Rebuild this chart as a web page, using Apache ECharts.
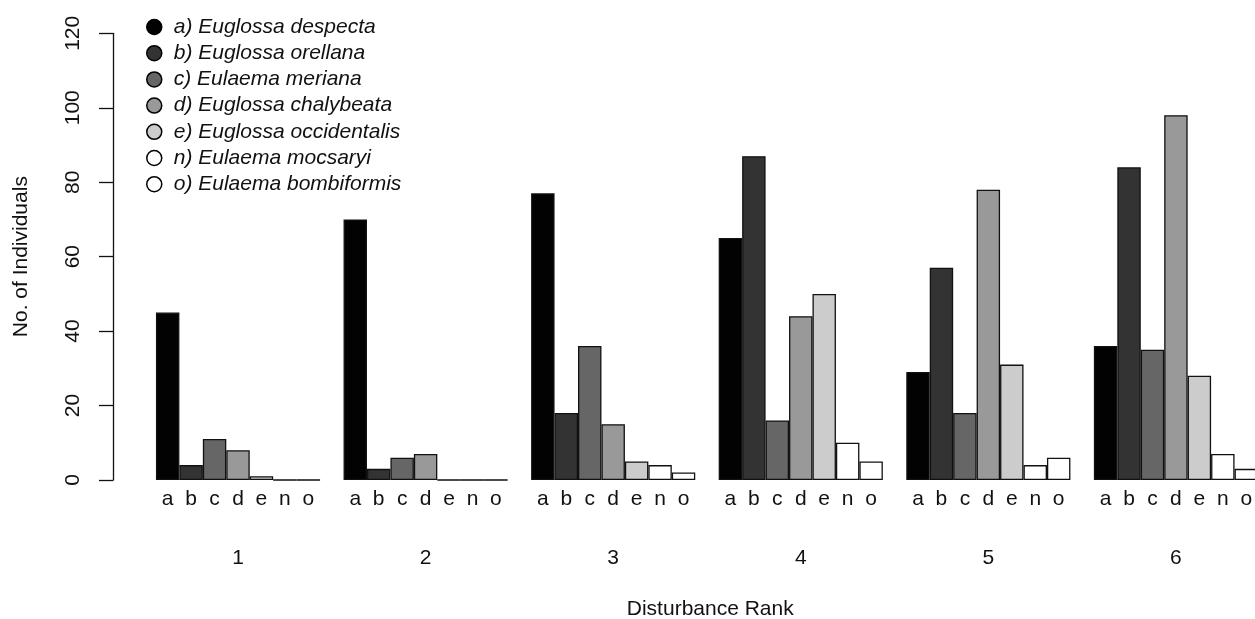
<!DOCTYPE html>
<html>
<head>
<meta charset="utf-8">
<script src="https://cdn.jsdelivr.net/npm/echarts@6/dist/echarts.min.js"></script>
<style>
html,body{margin:0;padding:0;background:#fff;}
#chart{width:1255px;height:619px;}
</style>
</head>
<body>
<div id="chart"></div>
<script>
// Disturbance ranks (groups)
var groups = ['1', '2', '3', '4', '5', '6'];
// Species letters (bars within each group)
var letters = ['a', 'b', 'c', 'd', 'e', 'n', 'o'];
// Legend names
var speciesNames = [
  'a) Euglossa despecta',
  'b) Euglossa orellana',
  'c) Eulaema meriana',
  'd) Euglossa chalybeata',
  'e) Euglossa occidentalis',
  'n) Eulaema mocsaryi',
  'o) Eulaema bombiformis'
];
// Counts per species, one value per disturbance rank 1..6
var sp_a = [45, 70, 77, 65, 29, 36];
var sp_b = [4, 3, 18, 87, 57, 84];
var sp_c = [11, 6, 36, 16, 18, 35];
var sp_d = [8, 7, 15, 44, 78, 98];
var sp_e = [1, 0, 5, 50, 31, 28];
var sp_n = [0, 0, 4, 10, 4, 7];
var sp_o = [0, 0, 2, 5, 6, 3];
var yTicks = [0, 20, 40, 60, 80, 100, 120];

var seriesValues = [sp_a, sp_b, sp_c, sp_d, sp_e, sp_n, sp_o];
var fills = ['#020202', '#333333', '#666666', '#999999', '#cccccc', '#ffffff', '#ffffff'];

// Each group occupies 8 slots: one empty space + 7 bars
var slotsPerGroup = letters.length + 1;
var slotLabels = [];
var groupSlotLabels = [];
groups.forEach(function (g) {
  slotLabels.push('');
  groupSlotLabels.push('');
  letters.forEach(function (l, i) {
    slotLabels.push(l);
    groupSlotLabels.push(i === 3 ? g : '');
  });
});

var series = seriesValues.map(function (vals, s) {
  var data = [];
  for (var k = 0; k < groups.length * slotsPerGroup; k++) data.push('-');
  vals.forEach(function (v, g) { data[g * slotsPerGroup + 1 + s] = v; });
  return {
    name: speciesNames[s],
    type: 'bar',
    stack: 'all',
    xAxisIndex: 0,
    barCategoryGap: '0%',
    data: data,
    itemStyle: { color: fills[s], borderColor: '#111', borderWidth: 1.3 }
  };
});

var chart = echarts.init(document.getElementById('chart'), null, { renderer: 'canvas' });
chart.setOption({
  animation: false,
  backgroundColor: '#fff',
  textStyle: { fontFamily: 'Liberation Sans, Arial, sans-serif' },
  grid: { left: 132.5, right: -3, top: 33.3, bottom: 139, containLabel: false, outerBoundsMode: 'none' },
  legend: {
    orient: 'vertical',
    left: 146,
    top: 16,
    padding: 0,
    itemGap: 4.2,
    itemWidth: 15,
    itemHeight: 15,
    icon: 'circle',
    selectedMode: false,
    itemStyle: { borderColor: '#000', borderWidth: 1.5 },
    textStyle: { fontSize: 21, fontStyle: 'italic', color: '#111', lineHeight: 22, padding: [0, 0, 0, 7] },
    data: speciesNames
  },
  xAxis: [
    {
      type: 'category',
      data: slotLabels,
      boundaryGap: true,
      axisLine: { show: false },
      axisTick: { show: false },
      axisLabel: { interval: 0, fontSize: 21, color: '#111', margin: 9 }
    },
    {
      type: 'category',
      data: groupSlotLabels,
      position: 'bottom',
      offset: 62,
      boundaryGap: true,
      axisLine: { show: false },
      axisTick: { show: false },
      axisLabel: { interval: 0, fontSize: 21, color: '#111', margin: 6 },
      name: 'Disturbance Rank',
      nameLocation: 'middle',
      nameGap: 57,
      nameTextStyle: { fontSize: 21, color: '#111', padding: [0, 0, 0, 30] }
    }
  ],
  yAxis: {
    type: 'value',
    min: yTicks[0],
    max: yTicks[yTicks.length - 1],
    interval: 20,
    offset: 19.5,
    axisLine: { show: true, lineStyle: { color: '#111', width: 1.3 } },
    axisTick: { show: true, length: 14, lineStyle: { color: '#111', width: 1.3 } },
    splitLine: { show: false },
    axisLabel: { rotate: 90, fontSize: 21, color: '#111', margin: 29 },
    name: 'No. of Individuals',
    nameLocation: 'middle',
    nameRotate: 90,
    nameGap: 81,
    nameTextStyle: { fontSize: 21, color: '#111' }
  },
  series: series
});
</script>
</body>
</html>
